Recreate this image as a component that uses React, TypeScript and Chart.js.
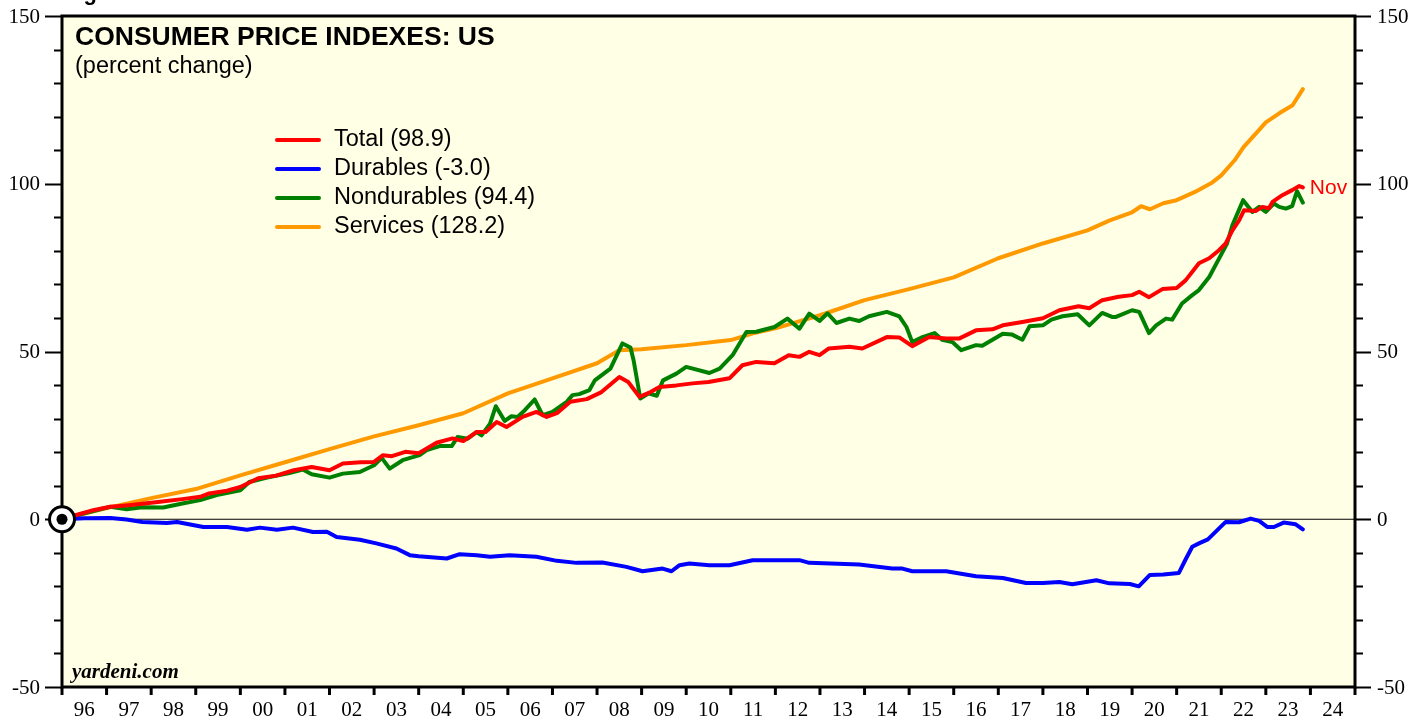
import React, { useEffect, useRef } from 'react';
import { Chart, registerables } from 'chart.js';

Chart.register(...registerables);

// ---- Data (percent change since Jan 1996) ----
const totalDates = [1996.0, 1996.3, 1996.7, 1997.08, 1997.5, 1998.2, 1998.7, 1999.1, 1999.3, 1999.7, 2000.0, 2000.4, 2000.8, 2001.2, 2001.6, 2002.0, 2002.3, 2002.7, 2003.0, 2003.2, 2003.4, 2003.7, 2004.0, 2004.4, 2004.76, 2005.0, 2005.3, 2005.5, 2005.75, 2005.97, 2006.33, 2006.64, 2006.87, 2007.1, 2007.4, 2007.77, 2008.1, 2008.5, 2008.7, 2008.95, 2009.2, 2009.4, 2009.78, 2010.14, 2010.5, 2010.97, 2011.26, 2011.57, 2011.98, 2012.3, 2012.54, 2012.76, 2012.99, 2013.2, 2013.66, 2013.95, 2014.5, 2014.78, 2015.07, 2015.45, 2015.83, 2016.13, 2016.5, 2016.87, 2017.1, 2017.54, 2018.0, 2018.37, 2018.8, 2019.04, 2019.33, 2019.7, 2020.0, 2020.16, 2020.38, 2020.68, 2021.0, 2021.2, 2021.5, 2021.73, 2021.95, 2022.1, 2022.25, 2022.4, 2022.51, 2022.78, 2022.92, 2023.07, 2023.15, 2023.37, 2023.59, 2023.75, 2023.83];
const totalValues = [0, 1.2, 2.7, 3.7, 4.2, 5.2, 6.0, 6.7, 7.7, 8.5, 9.6, 12.2, 13.0, 14.6, 15.6, 14.6, 16.6, 17.0, 17.1, 19.1, 18.8, 20.1, 19.7, 22.8, 24.1, 23.3, 26.0, 26.0, 29.0, 27.5, 30.5, 32.0, 30.5, 31.6, 35.0, 35.8, 37.9, 42.4, 40.9, 36.5, 37.9, 39.4, 39.9, 40.5, 40.9, 42.0, 45.9, 46.9, 46.5, 48.9, 48.4, 49.9, 48.9, 50.9, 51.4, 50.9, 54.3, 54.2, 51.6, 54.3, 53.9, 53.9, 56.3, 56.6, 57.8, 58.8, 59.9, 62.3, 63.5, 62.9, 65.3, 66.3, 66.8, 67.8, 66.2, 68.6, 68.9, 71.2, 76.3, 77.8, 80.2, 82.2, 86.1, 89.1, 92.1, 91.9, 93.1, 92.7, 94.6, 96.6, 98.1, 99.3, 98.9];

const durablesDates = [1996.0, 1996.5, 1997.08, 1997.45, 1997.8, 1998.35, 1998.58, 1999.17, 1999.7, 2000.15, 2000.44, 2000.82, 2001.18, 2001.63, 2001.94, 2002.16, 2002.68, 2003.05, 2003.5, 2003.8, 2004.0, 2004.63, 2004.92, 2005.3, 2005.6, 2006.04, 2006.64, 2007.1, 2007.54, 2008.12, 2008.66, 2009.02, 2009.47, 2009.67, 2009.85, 2010.07, 2010.52, 2010.97, 2011.49, 2012.54, 2012.76, 2013.88, 2014.62, 2014.85, 2015.07, 2015.83, 2016.5, 2017.1, 2017.62, 2018.0, 2018.37, 2018.66, 2019.2, 2019.49, 2019.95, 2020.15, 2020.4, 2020.7, 2021.05, 2021.2, 2021.35, 2021.5, 2021.7, 2022.1, 2022.4, 2022.66, 2022.85, 2023.03, 2023.18, 2023.4, 2023.67, 2023.83];
const durablesValues = [0, 0.3, 0.4, -0.1, -0.8, -1.1, -0.8, -2.3, -2.3, -3.1, -2.5, -3.1, -2.5, -3.8, -3.7, -5.3, -6.1, -7.2, -8.7, -10.7, -11.0, -11.7, -10.4, -10.7, -11.2, -10.7, -11.2, -12.4, -13.0, -12.9, -14.2, -15.5, -14.7, -15.5, -13.7, -13.2, -13.7, -13.7, -12.2, -12.2, -13.0, -13.5, -14.7, -14.7, -15.5, -15.5, -17.0, -17.5, -19.0, -19.0, -18.7, -19.4, -18.2, -19.1, -19.3, -20.0, -16.6, -16.5, -16.0, -12.0, -8.2, -7.2, -6.0, -0.8, -0.9, 0.2, -0.5, -2.3, -2.3, -1.0, -1.5, -3.0];

const nondurablesDates = [1996.0, 1996.5, 1997.08, 1997.45, 1997.8, 1998.27, 1998.7, 1999.1, 1999.47, 2000.0, 2000.2, 2000.6, 2001.1, 2001.4, 2001.6, 2002.0, 2002.3, 2002.68, 2003.0, 2003.17, 2003.35, 2003.64, 2004.02, 2004.18, 2004.47, 2004.74, 2004.87, 2005.1, 2005.3, 2005.41, 2005.6, 2005.73, 2005.93, 2006.08, 2006.22, 2006.38, 2006.6, 2006.78, 2007.0, 2007.32, 2007.45, 2007.6, 2007.83, 2007.95, 2008.3, 2008.57, 2008.75, 2008.82, 2008.97, 2009.15, 2009.34, 2009.48, 2009.78, 2010.0, 2010.52, 2010.75, 2011.04, 2011.35, 2011.57, 2011.98, 2012.27, 2012.54, 2012.76, 2012.99, 2013.17, 2013.37, 2013.66, 2013.88, 2014.1, 2014.5, 2014.78, 2014.94, 2015.07, 2015.3, 2015.57, 2015.74, 2015.97, 2016.17, 2016.5, 2016.64, 2017.1, 2017.3, 2017.54, 2017.7, 2018.0, 2018.19, 2018.44, 2018.78, 2019.04, 2019.33, 2019.55, 2019.64, 2020.0, 2020.16, 2020.38, 2020.54, 2020.76, 2020.9, 2021.12, 2021.35, 2021.5, 2021.73, 2021.95, 2022.13, 2022.25, 2022.49, 2022.7, 2022.85, 2023.0, 2023.18, 2023.3, 2023.45, 2023.59, 2023.7, 2023.83];
const nondurablesValues = [0, 1.8, 3.7, 3.0, 3.6, 3.5, 4.7, 5.7, 7.2, 8.6, 11.1, 12.4, 13.8, 14.8, 13.4, 12.4, 13.6, 14.1, 16.1, 18.3, 15.1, 17.6, 19.1, 20.6, 21.8, 21.8, 24.5, 24.0, 26.0, 25.0, 28.5, 33.7, 29.3, 30.7, 30.5, 32.5, 35.7, 31.0, 32.0, 35.0, 37.0, 37.3, 38.5, 41.4, 44.9, 52.4, 51.2, 47.4, 36.0, 37.5, 36.8, 41.4, 43.4, 45.4, 43.6, 44.9, 48.9, 55.8, 55.9, 57.3, 59.8, 56.8, 61.3, 59.1, 61.4, 58.5, 59.8, 59.1, 60.5, 61.8, 60.5, 57.3, 52.8, 54.3, 55.5, 53.5, 52.8, 50.4, 51.9, 51.7, 55.3, 55.1, 53.5, 57.5, 57.8, 59.5, 60.5, 61.1, 57.8, 61.5, 60.3, 60.3, 62.3, 61.8, 55.5, 57.8, 59.8, 59.5, 64.3, 66.8, 68.3, 72.2, 77.7, 82.2, 87.6, 95.1, 91.6, 93.1, 91.6, 94.1, 93.1, 92.6, 93.3, 97.8, 94.4];

const servicesDates = [1996.0, 1997.0, 1998.0, 1999.0, 2000.0, 2001.0, 2002.0, 2003.0, 2004.0, 2005.0, 2006.0, 2007.0, 2008.0, 2008.5, 2009.0, 2010.0, 2011.0, 2011.5, 2012.0, 2013.0, 2014.0, 2015.0, 2016.0, 2017.0, 2018.0, 2019.0, 2019.5, 2020.0, 2020.2, 2020.4, 2020.7, 2021.0, 2021.4, 2021.8, 2022.0, 2022.3, 2022.5, 2022.8, 2023.0, 2023.3, 2023.6, 2023.83];
const servicesValues = [0, 3.3, 6.3, 9.0, 13.1, 17.0, 20.9, 24.7, 28.0, 31.6, 37.5, 42.0, 46.5, 50.4, 50.7, 51.9, 53.4, 55.4, 56.9, 60.8, 65.3, 68.6, 72.1, 77.8, 82.2, 86.1, 89.1, 91.5, 93.3, 92.4, 94.2, 95.1, 97.5, 100.4, 102.5, 107.0, 110.9, 115.3, 118.3, 121.0, 123.4, 128.2];

const seriesLabels = ['Total (98.9)', 'Durables (-3.0)', 'Nondurables (94.4)', 'Services (128.2)'];
const seriesColors = ['#FF0000', '#0000FF', '#008000', '#FF9900'];

const xYears = [1996, 1997, 1998, 1999, 2000, 2001, 2002, 2003, 2004, 2005, 2006, 2007, 2008, 2009, 2010, 2011, 2012, 2013, 2014, 2015, 2016, 2017, 2018, 2019, 2020, 2021, 2022, 2023, 2024];
const yTickLabels = [-50, 0, 50, 100, 150];
const xMin = 1996;
const xMax = 2025;
const yMin = -50;
const yMax = 150;
const yMinorStep = 10;
const yMajorStep = 50;

const titleText = 'CONSUMER PRICE INDEXES: US';
const subtitleText = '(percent change)';
const lastLabel = 'Nov';
const sourceText = 'yardeni.com';
const figureText = 'Figure 1.';

const SERIF = "'Liberation Serif', 'Times New Roman', serif";
const SANS = "'Liberation Sans', Arial, sans-serif";

export default function App() {
  const ref = useRef<HTMLCanvasElement>(null);

  useEffect(() => {
    document.body.style.margin = '0';
    const canvas = ref.current as HTMLCanvasElement;
    const pts = (d: number[], v: number[]) => d.map((x, i) => ({ x, y: v[i] }));

    const overlay = {
      id: 'overlay',
      beforeDraw(chart: any) {
        const { ctx, chartArea } = chart;
        ctx.save();
        ctx.fillStyle = '#FFFFFF';
        ctx.fillRect(0, 0, chart.width, chart.height);
        ctx.fillStyle = '#FFFFE6';
        ctx.fillRect(chartArea.left, chartArea.top, chartArea.right - chartArea.left, chartArea.bottom - chartArea.top);
        ctx.restore();
      },
      beforeDatasetsDraw(chart: any) {
        const { ctx, chartArea } = chart;
        const py = chart.scales.y.getPixelForValue(0);
        ctx.save();
        ctx.strokeStyle = '#000';
        ctx.lineWidth = 1.2;
        ctx.beginPath();
        ctx.moveTo(chartArea.left, py);
        ctx.lineTo(chartArea.right, py);
        ctx.stroke();
        ctx.restore();
      },
      afterDraw(chart: any) {
        const { ctx, chartArea } = chart;
        const { left, right, top, bottom } = chartArea;
        const xs = chart.scales.x;
        const ys = chart.scales.y;
        ctx.save();
        // frame
        ctx.strokeStyle = '#000';
        ctx.lineWidth = 3;
        ctx.strokeRect(left, top, right - left, bottom - top);
        // y tick marks (both sides)
        ctx.lineWidth = 2;
        for (let v = yMin; v <= yMax; v += yMinorStep) {
          const py = Math.round(ys.getPixelForValue(v)) + 0.5;
          const major = v % yMajorStep === 0;
          ctx.beginPath();
          ctx.moveTo(left, py);
          ctx.lineTo(left - (major ? 17 : 8), py);
          ctx.moveTo(right, py);
          ctx.lineTo(right + (major ? 16 : 8), py);
          ctx.stroke();
        }
        // y tick labels (both sides)
        ctx.fillStyle = '#000';
        ctx.font = `21px ${SERIF}`;
        ctx.textBaseline = 'middle';
        yTickLabels.forEach((v) => {
          const py = ys.getPixelForValue(v) + 1;
          ctx.textAlign = 'right';
          ctx.fillText(String(v), left - 22, py);
          ctx.textAlign = 'left';
          ctx.fillText(String(v), right + 22, py);
        });
        // x tick marks
        ctx.lineWidth = 3;
        for (let yr = xMin; yr <= xMax; yr++) {
          const px = xs.getPixelForValue(yr);
          ctx.beginPath();
          ctx.moveTo(px, bottom);
          ctx.lineTo(px, bottom + 8);
          ctx.stroke();
        }
        // origin marker
        const ox = xs.getPixelForValue(totalDates[0]);
        const oy = ys.getPixelForValue(totalValues[0]);
        ctx.beginPath();
        ctx.arc(ox, oy, 12.5, 0, Math.PI * 2);
        ctx.fillStyle = '#FFFFFF';
        ctx.fill();
        ctx.lineWidth = 3;
        ctx.strokeStyle = '#000';
        ctx.stroke();
        ctx.beginPath();
        ctx.arc(ox, oy, 5.5, 0, Math.PI * 2);
        ctx.fillStyle = '#000';
        ctx.fill();

        // figure caption, cut at top
        ctx.fillStyle = '#000';
        ctx.textAlign = 'left';
        ctx.textBaseline = 'alphabetic';
        ctx.font = `bold 22px ${SANS}`;
        ctx.fillText(figureText, 64, 0);
        // title
        ctx.font = `bold 26.5px ${SANS}`;
        ctx.fillText(titleText, 75, 45);
        ctx.font = `23.5px ${SANS}`;
        ctx.fillText(subtitleText, 75, 73);

        // legend
        ctx.textBaseline = 'middle';
        ctx.font = `23.5px ${SANS}`;
        const legendY = [140, 169, 198, 227];
        seriesLabels.forEach((lab, i) => {
          ctx.strokeStyle = seriesColors[i];
          ctx.lineWidth = 4;
          ctx.lineCap = 'round';
          ctx.beginPath();
          ctx.moveTo(277, legendY[i]);
          ctx.lineTo(319, legendY[i]);
          ctx.stroke();
          ctx.fillStyle = '#000';
          ctx.fillText(lab, 334, legendY[i]);
        });

        // last-month label
        const lx = xs.getPixelForValue(totalDates[totalDates.length - 1]);
        const ly = ys.getPixelForValue(totalValues[totalValues.length - 1]);
        ctx.fillStyle = '#FF0000';
        ctx.font = `21px ${SANS}`;
        ctx.fillText(lastLabel, lx + 7, ly + 1);

        // source
        ctx.fillStyle = '#000';
        ctx.textBaseline = 'alphabetic';
        ctx.font = `bold italic 21px ${SERIF}`;
        ctx.fillText(sourceText, 72, 678);
        ctx.restore();
      },
    };

    const chart = new Chart(canvas, {
      type: 'line',
      data: {
        datasets: [
          { label: seriesLabels[0], data: pts(totalDates, totalValues), borderColor: seriesColors[0], yAxisID: 'y' },
          { label: seriesLabels[1], data: pts(durablesDates, durablesValues), borderColor: seriesColors[1], yAxisID: 'y' },
          { label: seriesLabels[2], data: pts(nondurablesDates, nondurablesValues), borderColor: seriesColors[2], yAxisID: 'y' },
          { label: seriesLabels[3], data: pts(servicesDates, servicesValues), borderColor: seriesColors[3], yAxisID: 'y' },
        ],
      },
      options: {
        animation: false,
        responsive: false,
        maintainAspectRatio: false,
        devicePixelRatio: 1,
        layout: { padding: { top: 16, left: 0, right: 0, bottom: 0 } },
        plugins: { legend: { display: false }, tooltip: { enabled: false } },
        elements: {
          point: { radius: 0 },
          line: { tension: 0, borderWidth: 4, borderJoinStyle: 'round', borderCapStyle: 'round', fill: false },
        },
        scales: {
          x: {
            type: 'linear',
            position: 'bottom',
            min: xMin,
            max: xMax,
            grid: { display: false, drawTicks: false },
            border: { display: false },
            afterBuildTicks: (s: any) => {
              s.ticks = xYears.map((y) => ({ value: y + 0.5 }));
            },
            ticks: {
              autoSkip: false,
              maxRotation: 0,
              padding: 11,
              color: '#000',
              font: { family: SERIF, size: 21 },
              callback: (v: any) => String(Math.floor(Number(v)) % 100).padStart(2, '0'),
            },
            afterFit: (s: any) => {
              s.height = 34;
            },
          },
          y: {
            type: 'linear',
            position: 'left',
            min: yMin,
            max: yMax,
            grid: { display: false, drawTicks: false },
            border: { display: false },
            ticks: { display: false, stepSize: yMinorStep },
            afterFit: (s: any) => {
              s.width = 62;
            },
          },
          y2: {
            type: 'linear',
            position: 'right',
            min: yMin,
            max: yMax,
            grid: { display: false, drawTicks: false },
            border: { display: false },
            ticks: { display: false, stepSize: yMinorStep },
            afterFit: (s: any) => {
              s.width = 71;
            },
          },
        },
      } as any,
      plugins: [overlay],
    });
    return () => chart.destroy();
  }, []);

  return <canvas ref={ref} width={1426} height={721} style={{ display: 'block' }} />;
}
